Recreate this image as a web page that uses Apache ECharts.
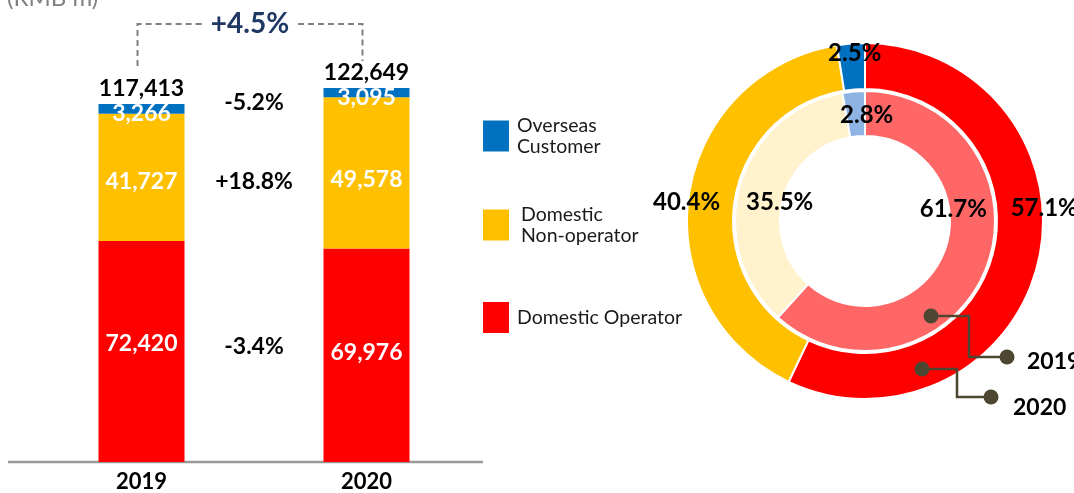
<!DOCTYPE html>
<html><head><meta charset="utf-8">
<script src="https://cdn.jsdelivr.net/npm/echarts@6/dist/echarts.min.js"></script>
<style>html,body{margin:0;padding:0;background:#fff;overflow:hidden}#c{width:1074px;height:493px}</style>
</head><body><div id="c"></div>
<script>
// ---- data ----
const years = ['2019', '2020'];
const domesticOperator = [72420, 69976];
const domesticNonOperator = [41727, 49578];
const overseasCustomer = [3266, 3095];
const unitLabel = '(RMB m)';
const segmentNames = ['Domestic Operator', 'Domestic Non-operator', 'Overseas Customer'];
const legendTexts = ['Domestic Operator', 'Domestic\nNon-operator', 'Overseas\nCustomer'];

// ---- derived ----
const totals = years.map((y, i) => domesticOperator[i] + domesticNonOperator[i] + overseasCustomer[i]);
const segs = [domesticOperator, domesticNonOperator, overseasCustomer];
const fmt = v => v.toLocaleString('en-US');
const pct = (a, b) => { const v = (a / b - 1) * 100; return (v >= 0 ? '+' : '') + v.toFixed(1) + '%'; };

const FONT = 'Lato';
const C_RED = '#FF0000', C_YEL = '#FFC000', C_BLU = '#0070C0';
const L_RED = '#FF6666', L_YEL = '#FFF2CC', L_BLU = '#8DB4E2';
const PIE_C = [865, 221];

// label offsets (layout only)
const barLabelDy = [[-8, -3], [4, 7], [5, 5]];
const outerDxy = [[28, -47], [-25, 3], [2, -13]];
const innerDxy = [[-12, -50], [18, 11], [11, 1]];

function barSeries(k, color) {
  return {
    type: 'bar', name: segmentNames[k], stack: 'total', barWidth: 86,
    itemStyle: { color: color },
    data: segs[k].map((v, i) => ({ value: v, label: { offset: [0, barLabelDy[k][i]] } })),
    label: { show: true, position: 'inside', color: '#fff', fontFamily: FONT, fontWeight: 'bold', fontSize: 23, formatter: p => fmt(p.value) },
    silent: true, animation: false
  };
}

function pieSeries(yearIdx, radius, colors, dxy) {
  const sum = totals[yearIdx];
  const rMid = (radius[0] + radius[1]) / 2;
  let acc = 0;
  const mids = segs.map(arr => { const f0 = acc; acc += arr[yearIdx] / sum; return (f0 + acc) / 2 * Math.PI * 2; });
  return {
    type: 'pie', center: PIE_C, radius: radius, startAngle: 90, clockwise: true,
    silent: true, animation: false,
    itemStyle: { borderColor: '#fff', borderWidth: 2 },
    data: segs.map((arr, k) => ({ name: segmentNames[k], value: arr[yearIdx], itemStyle: { color: colors[k] } })),
    label: { show: true, position: 'inside', color: '#000', fontFamily: FONT, fontWeight: 'bold', fontSize: 24,
      formatter: p => (p.value / sum * 100).toFixed(1) + '%' },
    labelLine: { show: false },
    labelLayout: p => {
      const a = mids[p.dataIndex];
      return { x: PIE_C[0] + rMid * Math.sin(a) + dxy[p.dataIndex][0],
               y: PIE_C[1] - rMid * Math.cos(a) + dxy[p.dataIndex][1],
               align: 'center', verticalAlign: 'middle' };
    }
  };
}

function legendFor(k, top, padLeft) {
  return {
    data: [segmentNames[k]], left: 478, top: top, orient: 'vertical',
    itemWidth: 26, itemHeight: 31, selectedMode: false, icon: 'rect',
    formatter: () => legendTexts[k],
    textStyle: { fontFamily: FONT, fontSize: 19.5, color: '#1a1a1a', lineHeight: 21, padding: [0, 0, 0, padLeft] }
  };
}

const chart = echarts.init(document.getElementById('c'), null, { renderer: 'canvas' });
chart.setOption({
  animation: false,
  grid: { left: 29, top: 35, width: 450, bottom: 30 },
  xAxis: { type: 'category', data: years, axisLine: { show: false }, axisTick: { show: false },
    axisLabel: { fontFamily: FONT, fontWeight: 'bold', fontSize: 22, color: '#000', margin: 9 } },
  yAxis: { type: 'value', min: 0, max: 140000, show: false },
  legend: [legendFor(2, 110, 3), legendFor(1, 199, 7), legendFor(0, 297, 3)],
  series: [
    barSeries(0, C_RED), barSeries(1, C_YEL), barSeries(2, C_BLU),
    { type: 'bar', name: 'total', stack: 'total', barWidth: 86, data: totals.map(() => 0),
      itemStyle: { color: 'rgba(0,0,0,0)' }, silent: true,
      label: { show: true, position: 'top', distance: 4, color: '#000', opacity: 1, fontFamily: FONT, fontWeight: 'bold', fontSize: 23,
        formatter: p => fmt(totals[p.dataIndex]) } },
    pieSeries(1, [132, 178], [C_RED, C_YEL, C_BLU], outerDxy),
    pieSeries(0, [85, 130], [L_RED, L_YEL, L_BLU], innerDxy)
  ]
});

// ---- annotations positioned from the axes ----
const x0 = chart.convertToPixel({ gridIndex: 0 }, [0, 0])[0];
const x1 = chart.convertToPixel({ gridIndex: 0 }, [1, 0])[0];
const xm = (x0 + x1) / 2;
const yAt = v => chart.convertToPixel({ gridIndex: 0 }, [0, v])[1];
const baseY = yAt(0);
const top0 = yAt(totals[0]), top1 = yAt(totals[1]);
const mid0 = [domesticOperator[0] / 2, domesticOperator[0] + domesticNonOperator[0] / 2, domesticOperator[0] + domesticNonOperator[0] + overseasCustomer[0] / 2];
const changeDy = [-5, 4, -6];
const changes = segs.map(a => pct(a[1], a[0]));
const totalChange = pct(totals[1], totals[0]);

const g = [];
g.push({ type: 'line', shape: { x1: 8, y1: baseY, x2: 483, y2: baseY }, style: { stroke: '#999', lineWidth: 2.5 }, silent: true });
g.push({ type: 'text', left: 7, top: -14, style: { text: unitLabel, fontFamily: FONT, fontSize: 24, fill: '#808080' } });
segs.forEach((a, k) => {
  g.push({ type: 'text', x: xm, y: yAt(mid0[k]) + changeDy[k],
    style: { text: changes[k], fontFamily: FONT, fontWeight: 'bold', fontSize: 23, fill: '#000', align: 'center', verticalAlign: 'middle' } });
});
const brY = 24;
const dash = { stroke: '#808080', lineWidth: 2, lineDash: [6, 4], fill: null };
g.push({ type: 'polyline', shape: { points: [[x0 - 4, top0 - 38], [x0 - 4, brY], [xm - 52, brY]] }, style: dash, silent: true });
g.push({ type: 'polyline', shape: { points: [[xm + 44, brY], [x1 - 4, brY], [x1 - 4, top1 - 27]] }, style: dash, silent: true });
g.push({ type: 'text', x: xm - 4, y: brY, style: { text: totalChange, fontFamily: FONT, fontWeight: 'bold', fontSize: 28, fill: '#203864', align: 'center', verticalAlign: 'middle' } });

// callouts for rings
const CL = '#4D4631';
const callouts = [
  { pts: [[931, 316], [969, 316], [969, 357], [1007, 357]], tx: 1027, ty: 362 },
  { pts: [[922, 369], [957, 369], [957, 397], [991, 397]], tx: 1013, ty: 408 }
];
callouts.forEach((c, i) => {
  g.push({ type: 'polyline', z: 100, shape: { points: c.pts }, style: { stroke: CL, lineWidth: 2.5, fill: null }, silent: true });
  g.push({ type: 'circle', z: 101, shape: { cx: c.pts[0][0], cy: c.pts[0][1], r: 7.5 }, style: { fill: CL }, silent: true });
  g.push({ type: 'circle', z: 101, shape: { cx: c.pts[3][0], cy: c.pts[3][1], r: 7.5 }, style: { fill: CL }, silent: true });
  g.push({ type: 'text', z: 101, x: c.tx, y: c.ty, style: { text: years[i], fontFamily: FONT, fontWeight: 'bold', fontSize: 23, fill: '#000', verticalAlign: 'middle' } });
});
chart.setOption({ graphic: { elements: g } });
</script>
</body></html>
